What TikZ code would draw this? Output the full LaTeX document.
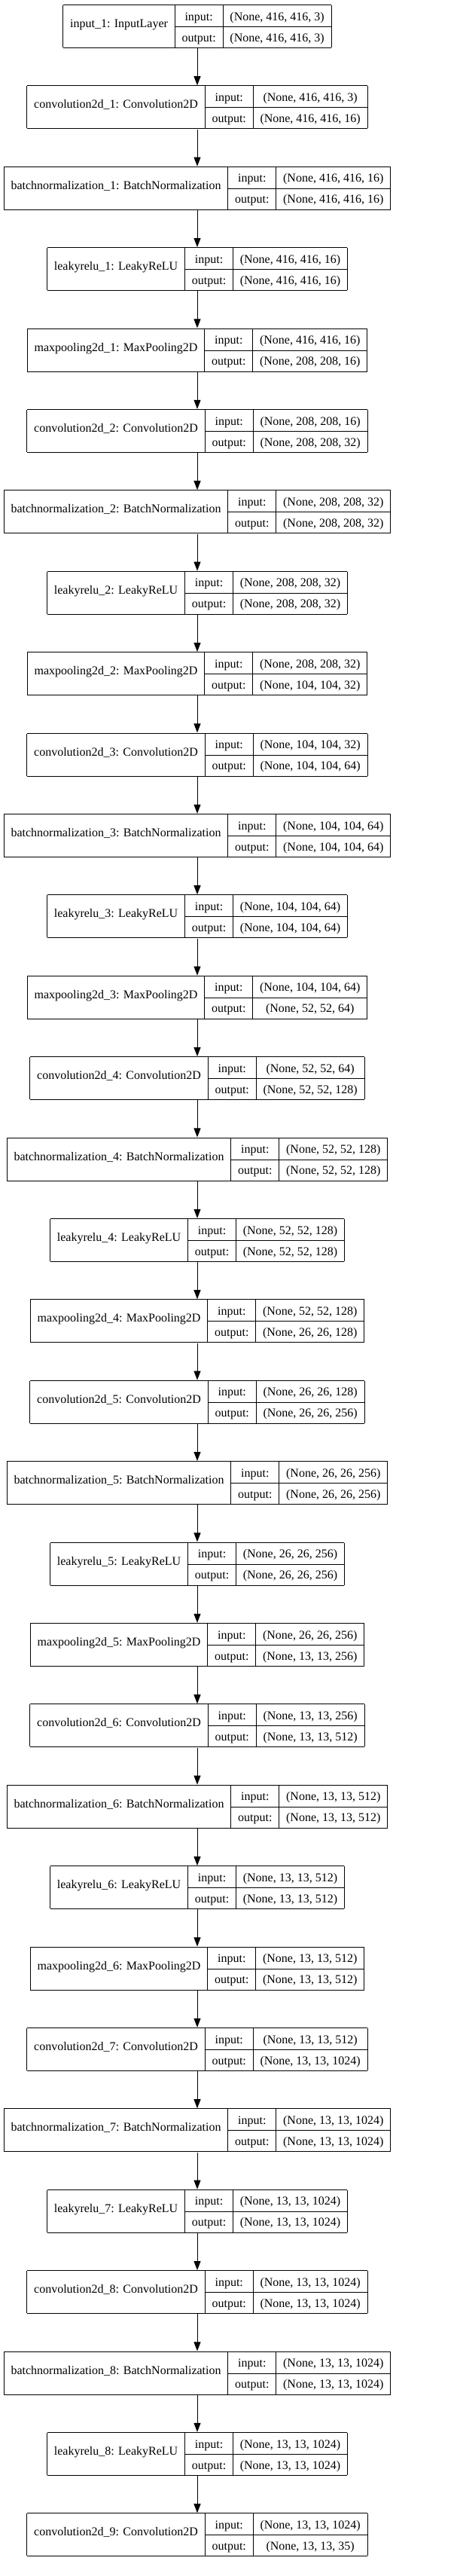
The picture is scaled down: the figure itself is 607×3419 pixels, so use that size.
\documentclass[tikz,border=0pt]{standalone}
\usepackage{fontspec}
\setmainfont{Liberation Serif}
\usepackage{multirow}
\usetikzlibrary{positioning, arrows.meta}

\setlength{\tabcolsep}{9.3pt}
\setlength{\arrayrulewidth}{1pt}
\newcommand{\rowstrut}{\rule[-8pt]{0pt}{28pt}}
\newcommand{\layer}[3]{%
  \begin{tabular}{|c|c|c|}\hline
  \multirow{2}{*}{#1} & input: & #2\rowstrut\\ \cline{2-3}
   & output: & #3\rowstrut\\ \hline
  \end{tabular}}

\begin{document}
\begin{tikzpicture}[
    node distance=49pt,
    box/.style={inner sep=0pt, font=\fontsize{16pt}{19pt}\selectfont},
    arrow/.style={-{Triangle[length=12pt, width=9pt]}, line width=1pt}
]
\useasboundingbox (0,0) rectangle (607pt,-3419pt);
\node[box] (input1) at (262pt,-35pt) {\layer{input\_1: InputLayer}{(None, 416, 416, 3)}{(None, 416, 416, 3)}};
\node[box, below=of input1] (conv1) {\layer{convolution2d\_1: Convolution2D}{(None, 416, 416, 3)}{(None, 416, 416, 16)}};
\node[box, below=of conv1] (bn1) {\layer{batchnormalization\_1: BatchNormalization}{(None, 416, 416, 16)}{(None, 416, 416, 16)}};
\node[box, below=of bn1] (leaky1) {\layer{leakyrelu\_1: LeakyReLU}{(None, 416, 416, 16)}{(None, 416, 416, 16)}};
\node[box, below=of leaky1] (pool1) {\layer{maxpooling2d\_1: MaxPooling2D}{(None, 416, 416, 16)}{(None, 208, 208, 16)}};
\node[box, below=of pool1] (conv2) {\layer{convolution2d\_2: Convolution2D}{(None, 208, 208, 16)}{(None, 208, 208, 32)}};
\node[box, below=of conv2] (bn2) {\layer{batchnormalization\_2: BatchNormalization}{(None, 208, 208, 32)}{(None, 208, 208, 32)}};
\node[box, below=of bn2] (leaky2) {\layer{leakyrelu\_2: LeakyReLU}{(None, 208, 208, 32)}{(None, 208, 208, 32)}};
\node[box, below=of leaky2] (pool2) {\layer{maxpooling2d\_2: MaxPooling2D}{(None, 208, 208, 32)}{(None, 104, 104, 32)}};
\node[box, below=of pool2] (conv3) {\layer{convolution2d\_3: Convolution2D}{(None, 104, 104, 32)}{(None, 104, 104, 64)}};
\node[box, below=of conv3] (bn3) {\layer{batchnormalization\_3: BatchNormalization}{(None, 104, 104, 64)}{(None, 104, 104, 64)}};
\node[box, below=of bn3] (leaky3) {\layer{leakyrelu\_3: LeakyReLU}{(None, 104, 104, 64)}{(None, 104, 104, 64)}};
\node[box, below=of leaky3] (pool3) {\layer{maxpooling2d\_3: MaxPooling2D}{(None, 104, 104, 64)}{(None, 52, 52, 64)}};
\node[box, below=of pool3] (conv4) {\layer{convolution2d\_4: Convolution2D}{(None, 52, 52, 64)}{(None, 52, 52, 128)}};
\node[box, below=of conv4] (bn4) {\layer{batchnormalization\_4: BatchNormalization}{(None, 52, 52, 128)}{(None, 52, 52, 128)}};
\node[box, below=of bn4] (leaky4) {\layer{leakyrelu\_4: LeakyReLU}{(None, 52, 52, 128)}{(None, 52, 52, 128)}};
\node[box, below=of leaky4] (pool4) {\layer{maxpooling2d\_4: MaxPooling2D}{(None, 52, 52, 128)}{(None, 26, 26, 128)}};
\node[box, below=of pool4] (conv5) {\layer{convolution2d\_5: Convolution2D}{(None, 26, 26, 128)}{(None, 26, 26, 256)}};
\node[box, below=of conv5] (bn5) {\layer{batchnormalization\_5: BatchNormalization}{(None, 26, 26, 256)}{(None, 26, 26, 256)}};
\node[box, below=of bn5] (leaky5) {\layer{leakyrelu\_5: LeakyReLU}{(None, 26, 26, 256)}{(None, 26, 26, 256)}};
\node[box, below=of leaky5] (pool5) {\layer{maxpooling2d\_5: MaxPooling2D}{(None, 26, 26, 256)}{(None, 13, 13, 256)}};
\node[box, below=of pool5] (conv6) {\layer{convolution2d\_6: Convolution2D}{(None, 13, 13, 256)}{(None, 13, 13, 512)}};
\node[box, below=of conv6] (bn6) {\layer{batchnormalization\_6: BatchNormalization}{(None, 13, 13, 512)}{(None, 13, 13, 512)}};
\node[box, below=of bn6] (leaky6) {\layer{leakyrelu\_6: LeakyReLU}{(None, 13, 13, 512)}{(None, 13, 13, 512)}};
\node[box, below=of leaky6] (pool6) {\layer{maxpooling2d\_6: MaxPooling2D}{(None, 13, 13, 512)}{(None, 13, 13, 512)}};
\node[box, below=of pool6] (conv7) {\layer{convolution2d\_7: Convolution2D}{(None, 13, 13, 512)}{(None, 13, 13, 1024)}};
\node[box, below=of conv7] (bn7) {\layer{batchnormalization\_7: BatchNormalization}{(None, 13, 13, 1024)}{(None, 13, 13, 1024)}};
\node[box, below=of bn7] (leaky7) {\layer{leakyrelu\_7: LeakyReLU}{(None, 13, 13, 1024)}{(None, 13, 13, 1024)}};
\node[box, below=of leaky7] (conv8) {\layer{convolution2d\_8: Convolution2D}{(None, 13, 13, 1024)}{(None, 13, 13, 1024)}};
\node[box, below=of conv8] (bn8) {\layer{batchnormalization\_8: BatchNormalization}{(None, 13, 13, 1024)}{(None, 13, 13, 1024)}};
\node[box, below=of bn8] (leaky8) {\layer{leakyrelu\_8: LeakyReLU}{(None, 13, 13, 1024)}{(None, 13, 13, 1024)}};
\node[box, below=of leaky8] (conv9) {\layer{convolution2d\_9: Convolution2D}{(None, 13, 13, 1024)}{(None, 13, 13, 35)}};
\draw[arrow] (input1) -- (conv1);
\draw[arrow] (conv1) -- (bn1);
\draw[arrow] (bn1) -- (leaky1);
\draw[arrow] (leaky1) -- (pool1);
\draw[arrow] (pool1) -- (conv2);
\draw[arrow] (conv2) -- (bn2);
\draw[arrow] (bn2) -- (leaky2);
\draw[arrow] (leaky2) -- (pool2);
\draw[arrow] (pool2) -- (conv3);
\draw[arrow] (conv3) -- (bn3);
\draw[arrow] (bn3) -- (leaky3);
\draw[arrow] (leaky3) -- (pool3);
\draw[arrow] (pool3) -- (conv4);
\draw[arrow] (conv4) -- (bn4);
\draw[arrow] (bn4) -- (leaky4);
\draw[arrow] (leaky4) -- (pool4);
\draw[arrow] (pool4) -- (conv5);
\draw[arrow] (conv5) -- (bn5);
\draw[arrow] (bn5) -- (leaky5);
\draw[arrow] (leaky5) -- (pool5);
\draw[arrow] (pool5) -- (conv6);
\draw[arrow] (conv6) -- (bn6);
\draw[arrow] (bn6) -- (leaky6);
\draw[arrow] (leaky6) -- (pool6);
\draw[arrow] (pool6) -- (conv7);
\draw[arrow] (conv7) -- (bn7);
\draw[arrow] (bn7) -- (leaky7);
\draw[arrow] (leaky7) -- (conv8);
\draw[arrow] (conv8) -- (bn8);
\draw[arrow] (bn8) -- (leaky8);
\draw[arrow] (leaky8) -- (conv9);
\end{tikzpicture}
\end{document}
